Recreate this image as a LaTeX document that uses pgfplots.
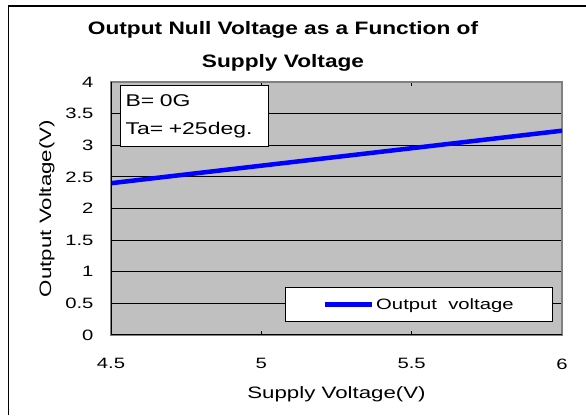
\documentclass[border=0pt]{standalone}
\usepackage{pgfplots}
\pgfplotsset{compat=1.18}
\usepackage{fontspec}
\setmainfont{Liberation Sans}[FakeStretch=1.35]
\newfontfamily\titlefont{Liberation Sans Bold}[FakeStretch=1.26]
\definecolor{plotgray}{RGB}{192,192,192}
\definecolor{framegray}{RGB}{128,128,128}
\definecolor{lineblue}{RGB}{0,0,255}
\begin{document}
\begin{tikzpicture}[x=1pt,y=1pt]
\useasboundingbox (0,0) rectangle (586,415);
\draw[black, line width=1.3pt] (8.5,0) -- (8.5,409) -- (586,409);
\node[anchor=base, font=\fontsize{18}{20}\titlefont] at (283,380.7) {Output Null Voltage as a Function of};
\node[anchor=base, font=\fontsize{18}{20}\titlefont] at (283,347.7) {Supply Voltage};
\begin{axis}[
  at={(111pt,80pt)}, anchor=south west,
  scale only axis, width=451pt, height=253pt,
  xmin=4.5, xmax=6, ymin=0, ymax=4,
  xtick={4.5,5,5.5,6}, ytick={0,0.5,1,1.5,2,2.5,3,3.5,4},
  /pgf/number format/assume math mode=true,
  xticklabel={\textnormal{\pgfmathprintnumber{\tick}}},
  yticklabel={\textnormal{\fontsize{15}{18}\selectfont\pgfmathprintnumber{\tick}}},
  every tick label/.append style={font=\fontsize{15}{18}\selectfont},
  every x tick label/.append style={yshift=-20pt},
  yticklabel style={anchor=east, xshift=-14pt},
  tick align=inside, major tick length=4pt,
  tick style={black, line width=0.8pt},
  ymajorgrids, grid style={black, line width=0.8pt},
  axis background/.style={fill=plotgray},
  axis line style={framegray, line width=2pt},
  xlabel={Supply Voltage(V)}, ylabel={Output Voltage(V)},
  label style={font=\fontsize{16.5}{19}\selectfont},
  xlabel style={at={(axis description cs:0.5,-0.25)}, anchor=base},
  ylabel style={at={(axis description cs:-0.133,0.5)}, anchor=base},
  legend style={at={(rel axis cs:0.980,0.051)}, anchor=south east,
    draw=black, line width=0.8pt, fill=white,
    inner xsep=37pt, inner ysep=9pt,
    font=\fontsize{15}{17}\selectfont,
    nodes={inner sep=2pt}},
  legend cell align=left,
  legend image code/.code={\draw[#1] (0pt,0pt) -- (47pt,0pt);},
]
\addplot[lineblue, line width=4.5pt] coordinates {(4.5,2.40) (5,2.677) (5.5,2.953) (6,3.23)};
\addlegendentry{Output\ \ voltage}
\draw[black, line width=1pt] (rel axis cs:0,1) -- (rel axis cs:0,0) -- (rel axis cs:1,0);
\node[anchor=north west, draw=black, line width=1pt, fill=white,
  text width=138pt, align=left, inner xsep=5pt, inner ysep=9pt,
  font=\fontsize{17}{28}\selectfont] at (rel axis cs:0.020,0.988) {B= 0G\\Ta= +25deg.};
\end{axis}
\end{tikzpicture}
\end{document}
